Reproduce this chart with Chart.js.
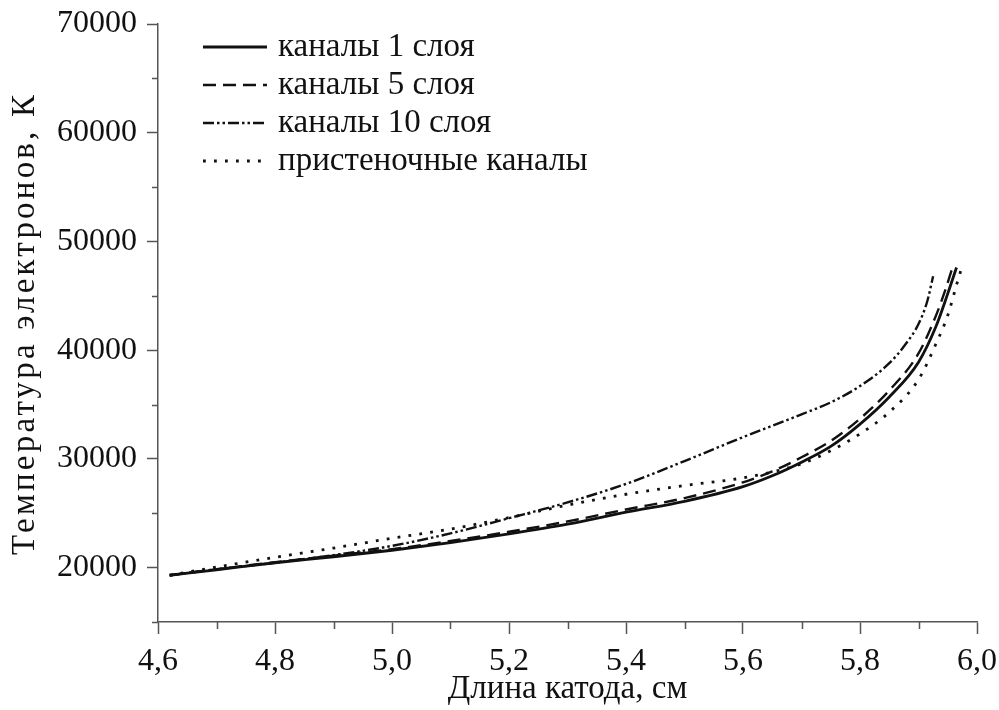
<!DOCTYPE html>
<html>
<head>
<meta charset="utf-8">
<script src="https://cdn.jsdelivr.net/npm/chart.js@4.4.1/dist/chart.umd.min.js"></script>
<style>
  html, body { margin: 0; padding: 0; background: #fff; }
  #wrap { width: 999px; height: 710px; }
</style>
</head>
<body>
<div id="wrap"><canvas id="chart"></canvas></div>
<script>
// Длина катода (см) и температура электронов (К) для каждого варианта
const xLayer1 = [4.62, 4.7, 4.8, 4.9, 5.0, 5.1, 5.2, 5.3, 5.4, 5.5, 5.6, 5.65, 5.7, 5.75, 5.8, 5.85, 5.9, 5.93, 5.95, 5.965];
const tLayer1 = [19300, 19800, 20450, 21000, 21600, 22300, 23100, 24000, 25100, 26100, 27450, 28450, 29700, 31150, 33200, 35700, 38900, 42200, 45200, 47600];

const xLayer5 = [4.62, 4.7, 4.8, 4.9, 5.0, 5.1, 5.2, 5.3, 5.4, 5.5, 5.6, 5.65, 5.7, 5.75, 5.8, 5.85, 5.9, 5.93, 5.945, 5.958];
const tLayer5 = [19300, 19850, 20500, 21100, 21700, 22450, 23300, 24250, 25350, 26400, 27850, 28850, 30150, 31650, 33700, 36300, 39700, 43200, 45400, 47600];

const xLayer10 = [4.62, 4.7, 4.8, 4.9, 5.0, 5.1, 5.2, 5.3, 5.4, 5.5, 5.6, 5.7, 5.75, 5.8, 5.85, 5.88, 5.9, 5.915, 5.925];
const tLayer10 = [19300, 19850, 20450, 21150, 22000, 23150, 24550, 26000, 27700, 29800, 32000, 34100, 35200, 36700, 38800, 40700, 42400, 44500, 46800];

const xWall = [4.62, 4.7, 4.8, 4.9, 5.0, 5.1, 5.2, 5.3, 5.4, 5.5, 5.6, 5.65, 5.7, 5.75, 5.8, 5.85, 5.9, 5.93, 5.95, 5.965, 5.975];
const tWall = [19300, 20050, 20950, 21800, 22700, 23550, 24600, 25750, 26750, 27550, 28250, 28800, 29550, 30750, 32300, 34300, 37300, 40600, 43200, 46000, 47800];

const seriesNames = ['каналы 1 слоя', 'каналы 5 слоя', 'каналы 10 слоя', 'пристеночные каналы'];

const xMajorTicks = [4.6, 4.8, 5.0, 5.2, 5.4, 5.6, 5.8, 6.0];
const xMinorTicks = [4.7, 4.9, 5.1, 5.3, 5.5, 5.7, 5.9];
const yMajorTicks = [20000, 30000, 40000, 50000, 60000, 70000];
const yMinorTicks = [15000, 25000, 35000, 45000, 55000, 65000];

const yTitle = 'Температура электронов, К';

const FONT = '"Liberation Serif", "Times New Roman", serif';
const AXIS = '#555';
const INK = '#111';

const styles = [
  { borderDash: [], borderWidth: 2.8 },
  { borderDash: [13, 7], borderWidth: 2.4 },
  { borderDash: [11, 3, 2.5, 3, 2.5, 3], borderWidth: 2.4 },
  { borderDash: [2.8, 8.2], borderWidth: 2.8 }
];

const pts = (xs, ys) => xs.map((x, i) => ({ x, y: ys[i] }));
const seriesData = [pts(xLayer1, tLayer1), pts(xLayer5, tLayer5), pts(xLayer10, tLayer10), pts(xWall, tWall)];

// промежуточные засечки на осях
const minorTicks = {
  id: 'minorTicks',
  afterDraw(chart) {
    const { ctx, scales: { x, y } } = chart;
    ctx.save();
    ctx.strokeStyle = AXIS;
    ctx.lineWidth = 1.5;
    ctx.beginPath();
    xMinorTicks.forEach(v => {
      const px = Math.round(x.getPixelForValue(v)) + 0.5;
      ctx.moveTo(px, x.top);
      ctx.lineTo(px, x.top + 7);
    });
    yMinorTicks.forEach(v => {
      const py = Math.round(y.getPixelForValue(v)) + 0.5;
      ctx.moveTo(y.right, py);
      ctx.lineTo(y.right - 6, py);
    });
    ctx.stroke();
    ctx.restore();
  }
};

// подпись оси Y, растянутая по длине
const yAxisTitle = {
  id: 'yAxisTitle',
  afterDraw(chart) {
    const { ctx } = chart;
    ctx.save();
    ctx.font = '33px ' + FONT;
    ctx.fillStyle = INK;
    const w = ctx.measureText(yTitle).width;
    const gap = Math.max(0, (460 - w) / (yTitle.length - 1));
    ctx.letterSpacing = gap.toFixed(2) + 'px';
    ctx.translate(34, 325);
    ctx.rotate(-Math.PI / 2);
    ctx.textAlign = 'center';
    ctx.textBaseline = 'alphabetic';
    ctx.fillText(yTitle, gap / 2, 0);
    ctx.restore();
  }
};

// легенда в левом верхнем углу
const lineLegend = {
  id: 'lineLegend',
  afterDraw(chart) {
    const { ctx } = chart;
    const x0 = 203, x1 = 267, rowY = [47, 85, 123, 161];
    ctx.save();
    ctx.font = '33px ' + FONT;
    ctx.textBaseline = 'middle';
    ctx.fillStyle = INK;
    chart.data.datasets.forEach((ds, i) => {
      const y = rowY[i];
      ctx.strokeStyle = INK;
      ctx.lineWidth = ds.borderWidth;
      ctx.setLineDash(ds.borderDash);
      ctx.beginPath();
      ctx.moveTo(x0, y);
      ctx.lineTo(x1, y);
      ctx.stroke();
      ctx.setLineDash([]);
      ctx.fillText(ds.label, 278, y);
    });
    ctx.restore();
  }
};

new Chart(document.getElementById('chart').getContext('2d'), {
  type: 'line',
  data: {
    datasets: seriesData.map((data, i) => ({
      label: seriesNames[i],
      data,
      borderColor: INK,
      borderWidth: styles[i].borderWidth,
      borderDash: styles[i].borderDash,
      pointRadius: 0,
      fill: false,
      cubicInterpolationMode: 'monotone'
    }))
  },
  options: {
    responsive: true,
    maintainAspectRatio: false,
    animation: false,
    layout: { padding: { top: 24, right: 22, left: 0, bottom: 0 } },
    plugins: { legend: { display: false }, tooltip: { enabled: false } },
    scales: {
      x: {
        type: 'linear',
        min: 4.6,
        max: 6.0,
        afterBuildTicks: s => { s.ticks = xMajorTicks.map(v => ({ value: v })); },
        afterFit: s => { s.height = 88; s.paddingLeft = 0; s.paddingRight = 0; },
        border: { color: AXIS, width: 1.5 },
        grid: { drawOnChartArea: false, tickLength: 12, tickColor: AXIS, tickWidth: 1.5 },
        ticks: {
          padding: 8,
          color: INK,
          font: { family: FONT, size: 32 },
          maxRotation: 0,
          callback: v => v.toFixed(1).replace('.', ',')
        },
        title: {
          display: true,
          text: 'Длина катода, см',
          color: INK,
          font: { family: FONT, size: 33 },
          padding: { top: 0, bottom: 1 }
        }
      },
      y: {
        min: 15000,
        max: 70000,
        afterBuildTicks: s => { s.ticks = yMajorTicks.map(v => ({ value: v })); },
        afterFit: s => { s.width = 158; s.paddingTop = 0; s.paddingBottom = 0; },
        border: { color: AXIS, width: 1.5 },
        grid: { drawOnChartArea: false, tickLength: 11, tickColor: AXIS, tickWidth: 1.5 },
        ticks: {
          padding: 10,
          color: INK,
          font: { family: FONT, size: 32 },
          callback: v => String(v)
        },
        title: { display: false }
      }
    }
  },
  plugins: [minorTicks, yAxisTitle, lineLegend]
});
</script>
</body>
</html>
